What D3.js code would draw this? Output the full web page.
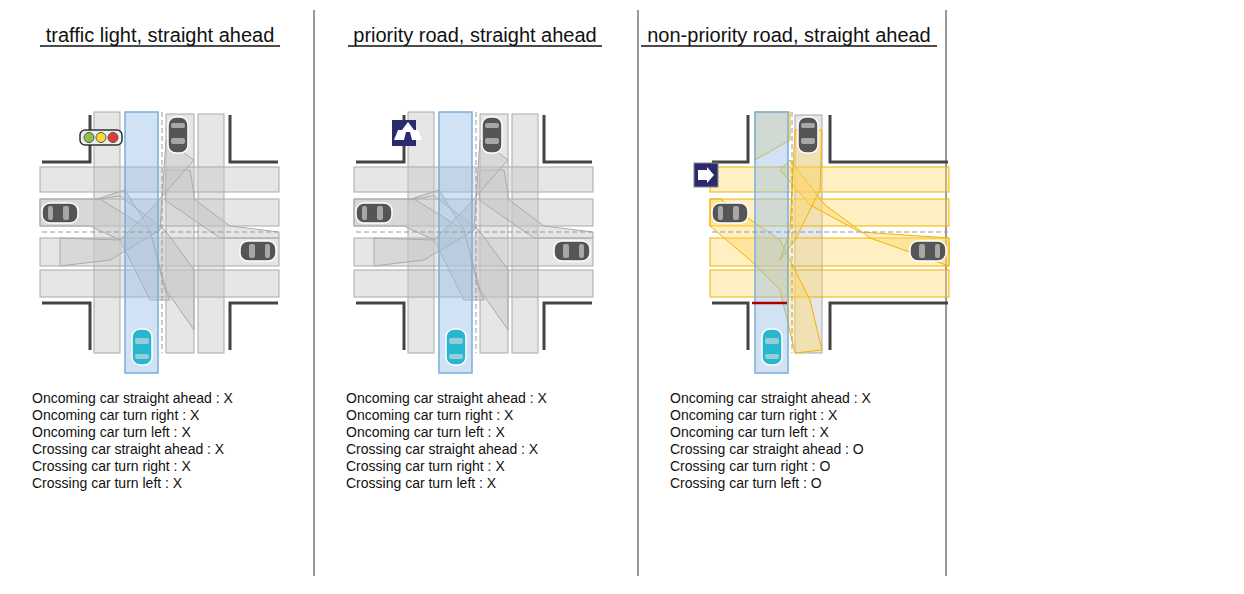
<!DOCTYPE html><html><head><meta charset="utf-8"><script src="https://cdn.jsdelivr.net/npm/d3@7"></script>
<style>body{margin:0;background:#fff}text{font-family:Arial,"Liberation Sans",sans-serif}</style></head><body><svg id="c" width="1244" height="594"></svg><script>
const titles=["traffic light, straight ahead","priority road, straight ahead","non-priority road, straight ahead"];
const conflicts=["Oncoming car straight ahead","Oncoming car turn right","Oncoming car turn left","Crossing car  straight ahead","Crossing car  turn right","Crossing car  turn left"];
const answers=[["X","X","X","X","X","X"],["X","X","X","X","X","X"],["X","X","X","O","O","O"]];
const panelX=[0,314,630];
const separators=[314,638,946];
const svg=d3.select("#c");
separators.forEach(x=>svg.append("line").attr("x1",x).attr("x2",x).attr("y1",10).attr("y2",576).attr("stroke","#555").attr("stroke-width",1.2));
function car(g,x,y,rot,col){const c=g.append("g").attr("transform",`translate(${x},${y}) rotate(${rot})`);
 c.append("rect").attr("x",-10).attr("y",-18).attr("width",20).attr("height",36).attr("rx",8).attr("fill",col).attr("stroke","#fff").attr("stroke-width",1.5);
 c.append("rect").attr("x",-7).attr("y",-9).attr("width",14).attr("height",6).attr("rx",2).attr("fill","#ddd").attr("opacity",.6);
 c.append("rect").attr("x",-7).attr("y",7).attr("width",14).attr("height",5).attr("rx",2).attr("fill","#ddd").attr("opacity",.6);}
const gray="rgba(200,200,200,0.45)",gs="#aaa",yl="rgba(255,215,100,0.4)",ys="#f0b400";
titles.forEach((t,i)=>{
 const ox=panelX[i], g=svg.append("g").attr("transform",`translate(${ox},0)`);
 const cx=[160,475-314,789-630][i];
 const tt=g.append("text").attr("x",cx).attr("y",42).attr("text-anchor","middle").attr("font-size",20).attr("fill","#111").text(t);
 const L=t.length; g.append("line").attr("x1",cx-[120,127,148][i]).attr("x2",cx+[120,127,148][i]).attr("y1",46).attr("y2",46).attr("stroke","#111").attr("stroke-width",1.3);
 const third=i===2;
 const lx=third?[118,200]:[90,230];
 const ddx=third?40:0;
 // walls
 const wall=d=>g.append("path").attr("d",d).attr("fill","none").attr("stroke","#444").attr("stroke-width",3);
 wall(`M${42+ddx} 162H${lx[0]}V115`);wall(`M${lx[1]} 115V162H${278+ddx}`);
 wall(`M${42+ddx} 303H${lx[0]}V350`);wall(`M${lx[1]} 350V303H${278+ddx}`);
 const hy=[[167,192],[199,226],[238,266],[270,297]];
 const hfill=third?yl:gray,hst=third?ys:gs;
 if(!third){
  [[94,120,112,353],[166,194,114,353],[198,224,114,353]].forEach(v=>g.append("rect").attr("x",v[0]).attr("y",v[2]).attr("width",v[1]-v[0]).attr("height",v[3]-v[2]).attr("fill",gray).attr("stroke",gs));
 } else {
  g.append("rect").attr("x",165).attr("y",115).attr("width",27).attr("height",238).attr("fill",gray).attr("stroke",gs);
 }
 hy.forEach(h=>g.append("rect").attr("x",40+ddx).attr("y",h[0]).attr("width",239).attr("height",h[1]-h[0]).attr("fill",hfill).attr("stroke",hst));
 // turning paths
 const paths=third?[
  [[125,160],[160,140],[160,112],[125,112]],
  [[40+ddx,199],[90,199],[150,240],[180,300],[192,350],[165,353],[150,290],[120,260],[80,226],[40+ddx,226]],
  [[279+ddx,238],[230,232],[180,205],[150,170],[160,160],[195,205],[240,238],[279+ddx,266]],
  [[165,130],[160,230],[150,260],[165,240],[190,190],[192,130]]
 ]:[
  [[94,200],[125,190],[150,230],[166,290],[194,330],[194,270],[165,230],[120,196]],
  [[40,199],[100,199],[150,230],[165,290],[170,300],[150,300],[120,240],[90,226],[40,226]],
  [[279,238],[220,238],[165,200],[166,170],[190,170],[195,200],[230,226],[279,232]],
  [[166,140],[160,230],[110,260],[60,266],[60,238],[120,240],[150,210],[194,160]]
 ];
 paths.forEach(p=>g.append("path").attr("d",d3.line()(p)+"Z").attr("fill",third?yl:gray).attr("stroke",third?ys:gs).attr("stroke-width",1));
 // blue lane
 const bx=third?125:125;
 g.append("rect").attr("x",bx).attr("y",112).attr("width",33).attr("height",261).attr("fill","rgba(150,190,230,0.45)").attr("stroke","#7aaedc").attr("stroke-width",1.5);
 // dashed centre lines
 g.append("line").attr("x1",42+ddx).attr("x2",278+ddx).attr("y1",232).attr("y2",232).attr("stroke","#999").attr("stroke-dasharray","5,3");
 g.append("line").attr("x1",162).attr("x2",162).attr("y1",112).attr("y2",353).attr("stroke","#999").attr("stroke-dasharray","5,3");
 if(third) g.append("line").attr("x1",122).attr("x2",157).attr("y1",303).attr("y2",303).attr("stroke","#a00").attr("stroke-width",2.5);
 car(g,178,135,180,"#555");car(g,60+ddx,213,90,"#555");car(g,258+ddx,251,-90,"#555");car(g,142,347,0,"#29b6cf");
 if(i===0){g.append("rect").attr("x",80).attr("y",130).attr("width",42).attr("height",15).attr("rx",5).attr("fill","#eee").attr("stroke","#333").attr("stroke-width",1.5);
  ["#8bc34a","#fdd835","#e53935"].forEach((c,k)=>g.append("circle").attr("cx",89+k*12).attr("cy",137.5).attr("r",5).attr("fill",c).attr("stroke","#555"));}
 if(i===1){g.append("rect").attr("x",392-314).attr("y",120).attr("width",24).attr("height",26).attr("fill","#2b2a6e");
  g.append("path").attr("d","M80 140h10l2-8h4l2 8h10l-4-10h-4l-6-8-6 8h-4z").attr("fill","#fff").attr("transform","translate(-0,0)");}
 if(i===2){g.append("rect").attr("x",64).attr("y",163).attr("width",24).attr("height",24).attr("fill","#2b2a6e").attr("stroke","#888");
  g.append("path").attr("d","M68 170h9v-3l7 8-7 8v-3h-9z").attr("fill","#fff");}
 const tx=third?40:32;
 conflicts.forEach((c,k)=>g.append("text").attr("x",tx).attr("y",403+k*17).attr("font-size",14).attr("fill","#111").text(`${c} : ${answers[i][k]}`));
});
</script></body></html>
